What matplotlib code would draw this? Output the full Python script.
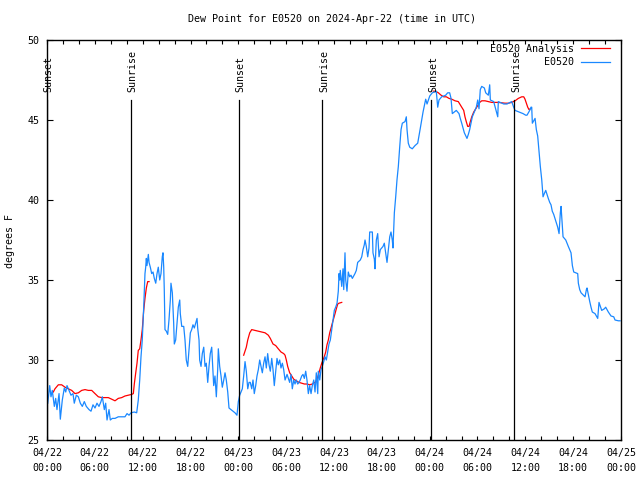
import numpy as np
import matplotlib
matplotlib.use("Agg")
import matplotlib.pyplot as plt
from matplotlib.ticker import FixedLocator, MultipleLocator
import matplotlib.transforms as mtransforms

# ---- data (hours since 2024-04-22 00:00 UTC, dew point in deg F) ----
obs_hours = [0.09, 0.34, 0.50, 0.66, 0.92, 1.09, 1.25, 1.51, 1.67, 1.92, 2.17, 2.35, 2.51, 2.76,
             3.01, 3.26, 3.42, 3.68, 3.93, 4.18, 4.43, 4.68, 4.93, 5.27, 5.52, 5.77, 6.02, 6.27,
             6.52, 6.77, 6.94, 7.19, 7.36, 7.53, 7.78, 7.94, 8.19, 8.53, 8.94, 9.37, 9.78, 10.04,
             10.29, 10.54, 10.95, 11.25, 11.45, 11.63, 11.79, 11.95, 12.13, 12.29, 12.38, 12.46,
             12.54, 12.71, 12.80, 12.96, 13.13, 13.30, 13.46, 13.64, 13.80, 13.96, 14.14, 14.30,
             14.46, 14.55, 14.64, 14.71, 14.80, 14.97, 15.14, 15.30, 15.47, 15.55, 15.72, 15.89,
             15.97, 16.14, 16.31, 16.47, 16.65, 16.72, 16.90, 17.15, 17.31, 17.47, 17.65, 17.81,
             17.98, 18.15, 18.31, 18.48, 18.65, 18.82, 18.90, 19.07, 19.15, 19.32, 19.48, 19.66,
             19.82, 19.98, 20.16, 20.32, 20.48, 20.66, 20.74, 20.91, 21.07, 21.24, 21.41, 21.49,
             21.66, 21.83, 21.99, 22.17, 22.33, 22.49, 22.67, 22.83, 23.08, 23.33, 23.58, 23.83,
             24.00, 24.17, 24.34, 24.50, 24.67, 24.84, 25.00, 25.18, 25.34, 25.50, 25.68, 25.84,
             26.00, 26.18, 26.34, 26.51, 26.68, 26.84, 27.01, 27.18, 27.35, 27.51, 27.68, 27.85,
             28.01, 28.19, 28.35, 28.51, 28.69, 28.85, 29.01, 29.19, 29.35, 29.52, 29.69, 29.86,
             30.11, 30.44, 30.61, 30.77, 30.95, 31.11, 31.27, 31.45, 31.61, 31.77, 31.95, 32.11,
             32.28, 32.45, 32.61, 32.78, 32.95, 33.12, 33.28, 33.46, 33.62, 33.78, 33.96, 34.03,
             34.21, 34.37, 34.53, 34.71, 34.87, 35.04, 35.21, 35.37, 35.54, 35.71, 35.88, 36.04,
             36.21, 36.38, 36.54, 36.63, 36.72, 36.79, 36.97, 37.13, 37.22, 37.38, 37.47, 37.63,
             37.79, 37.97, 38.13, 38.30, 38.63, 38.80, 38.97, 39.30, 39.48, 39.64, 39.80, 39.89,
             40.05, 40.23, 40.39, 40.48, 40.81, 40.89, 41.06, 41.14, 41.31, 41.48, 41.65, 41.81,
             42.15, 42.31, 42.65, 42.99, 43.15, 43.31, 43.40, 43.57, 43.74, 43.90, 44.07, 44.24,
             44.41, 44.57, 44.91, 45.07, 45.16, 45.32, 45.50, 45.82, 46.16, 46.50, 46.66, 46.83,
             47.00, 47.17, 47.33, 47.50, 47.67, 48.01, 48.33, 48.83, 49.01, 49.17, 49.51, 50.01,
             50.26, 50.51, 50.68, 50.84, 51.34, 51.68, 51.84, 52.02, 52.18, 52.35, 52.68, 52.85,
             53.02, 53.19, 53.35, 53.69, 53.85, 54.03, 54.19, 54.35, 54.53, 54.86, 55.03, 55.36,
             55.53, 55.61, 56.03, 56.54, 56.61, 57.29, 57.70, 58.29, 58.54, 58.71, 59.21, 59.71,
             60.05, 60.21, 60.55, 60.71, 60.80, 60.88, 61.22, 61.38, 61.55, 61.72, 61.88, 62.06,
             62.22, 62.38, 62.56, 62.88, 63.06, 63.22, 63.38, 63.56, 63.72, 63.89, 64.06, 64.23,
             64.39, 64.48, 64.73, 65.07, 65.39, 65.73, 65.90, 66.07, 66.57, 66.65, 66.82, 66.99,
             67.49, 67.66, 67.74, 68.08, 68.24, 68.40, 68.74, 69.08, 69.24, 69.58, 69.91, 70.08,
             70.41, 70.75, 71.09, 71.25, 71.67, 71.88]
obs_dewpt = [27.3, 28.4, 27.7, 28.1, 27.1, 27.6, 26.9, 27.9, 26.3, 27.5, 28.25, 28.0, 28.4, 28.1,
             27.8, 27.9, 27.3, 27.8, 27.7, 27.3, 27.1, 27.4, 27.1, 26.9, 26.8, 27.2, 27.0, 27.3,
             27.1, 27.4, 27.7, 26.9, 27.3, 26.25, 26.9, 26.25, 26.35, 26.35, 26.45, 26.45, 26.45, 26.65,
             26.55, 26.7, 26.75, 26.7, 27.5, 28.75, 30.2, 31.25, 33.3, 35.4, 35.8, 36.35,
             35.9, 36.6, 36.1, 35.8, 35.4, 35.5, 35.1, 34.8, 35.4, 35.8, 35.0, 35.4,
             36.45, 36.7, 35.8, 34.4, 31.9, 31.8, 31.6, 32.5, 33.75, 34.8, 34.2, 32.3,
             31.0, 31.25, 32.3, 33.3, 33.75, 32.9, 32.1, 32.1, 31.25, 30.0, 29.6, 30.6,
             31.7, 31.9, 32.2, 32.0, 32.3, 32.6, 32.0, 31.25, 30.0, 29.6, 30.4, 30.8,
             29.6, 29.8, 28.6, 29.6, 30.4, 30.8, 30.0, 28.4, 29.0, 27.7, 29.4, 30.7,
             29.6, 29.0, 28.3, 28.75, 29.2, 28.75, 28.0, 27.0, 26.9, 26.8, 26.7, 26.55,
             27.4, 27.8, 28.0, 28.2, 29.0, 29.9, 29.3, 28.2, 28.6, 28.6, 28.2, 28.75,
             27.9, 28.4, 29.0, 29.4, 30.0, 29.6, 29.2, 29.8, 30.2, 29.5, 30.4, 29.7,
             29.3, 30.1, 29.4, 28.4, 29.3, 30.1, 29.7, 30.0, 29.5, 29.8, 29.4, 28.75,
             29.1, 28.6, 29.1, 28.2, 28.75, 28.5, 28.75, 28.5, 28.6, 28.75, 29.0, 29.1,
             28.85, 29.3, 28.75, 27.9, 28.4, 27.9, 28.4, 28.75, 28.0, 29.2, 27.9, 29.3,
             28.75, 29.4, 29.6, 29.9, 30.2, 30.0, 30.5, 31.0, 31.25, 31.9, 32.5, 33.1,
             33.3, 33.55, 34.3, 35.4, 35.0, 35.6, 34.6, 35.7, 34.4, 36.7, 35.0, 34.3,
             35.5, 35.2, 35.3, 35.1, 35.4, 35.6, 36.1, 36.25, 36.45, 36.9, 37.2, 37.5,
             37.1, 36.45, 37.0, 38.0, 38.0, 36.7, 36.3, 35.7, 37.5, 37.9, 36.45, 36.9,
             37.1, 37.3, 36.1, 37.7, 38.0, 37.5, 37.0, 39.2, 40.2, 41.25, 42.1, 43.3,
             44.4, 44.8, 44.9, 45.2, 44.4, 43.55, 43.3, 43.2, 43.4, 43.55, 44.0, 44.5,
             45.0, 45.5, 45.9, 46.3, 46.0, 46.5, 46.7, 46.8, 45.8, 46.25, 46.45, 46.55,
             46.7, 46.7, 46.35, 45.4, 45.6, 45.4, 45.1, 44.8, 44.5, 44.2, 43.85, 44.1,
             44.4, 44.8, 45.2, 45.6, 45.8, 46.25, 45.7, 46.9, 47.1, 47.0, 46.7, 46.55,
             47.2, 46.25, 46.15, 45.2, 46.15, 46.0, 46.0, 46.15, 45.8, 45.6, 45.5, 45.4,
             45.3, 45.3, 45.6, 45.8, 45.8, 44.8, 45.1, 44.4, 44.0, 43.0, 42.1, 41.25,
             40.2, 40.4, 40.6, 40.1, 39.85, 39.7, 39.3, 39.1, 38.85, 38.6, 38.3, 37.9,
             39.2, 39.6, 37.7, 37.5, 37.1, 36.7, 35.9, 35.5, 35.4, 34.8, 34.4, 34.2,
             33.95, 34.4, 34.5, 33.65, 33.3, 33.0, 32.9, 32.6, 33.6, 33.1, 33.2, 33.3,
             33.0, 32.75, 32.7, 32.5, 32.45, 32.45]

# analysis series; NaN marks gaps between analysis periods
ana_hours = [0.79, 1.00, 1.42, 1.84, 2.26, 2.67, 3.10, 3.51, 3.93, 4.35, 4.77, 5.18, 5.61, 6.02,
             6.44, 6.86, 7.28, 7.69, 8.12, 8.53, 8.94, 9.37, 9.78, 10.20, 10.62, 10.83, 10.95,
             11.13, 11.29, 11.45, 11.63, 11.79, 11.95, 12.13, 12.29, 12.46, 12.63, 12.80,
             18.0,
             24.67, 25.00, 25.18, 25.43, 25.68, 26.09, 26.51, 26.93, 27.35, 27.76, 28.01, 28.35,
             28.69, 29.01, 29.35, 29.69, 29.86, 30.02, 30.19, 30.44, 30.70, 30.95, 31.27, 31.61,
             31.95, 32.28, 32.61, 32.95, 33.28, 33.62, 33.87, 34.03, 34.28, 34.46, 34.62, 34.78,
             34.96, 35.12, 35.29, 35.46, 35.63, 35.79, 35.96, 36.13, 36.29, 36.47, 36.63, 36.97,
             42.0,
             48.46, 48.76, 49.09, 49.43, 49.76, 50.09, 50.43, 50.77, 51.18, 51.59, 52.02, 52.27,
             52.43, 52.59, 52.77, 52.94, 53.10, 53.28, 53.53, 53.78, 54.03, 54.28, 54.53, 54.94,
             55.36, 55.78, 56.61, 57.45, 57.87, 58.29, 58.71, 59.12, 59.55, 59.80, 59.96, 60.13,
             60.30, 60.46, 60.62]
ana_dewpt = [28.0, 28.2, 28.45, 28.45, 28.3, 28.2, 28.1, 27.9, 27.95, 28.1, 28.15, 28.1, 28.1, 27.9,
             27.7, 27.65, 27.65, 27.65, 27.55, 27.45, 27.6, 27.65, 27.75, 27.8, 27.85, 27.9, 28.5,
             29.2, 29.8, 30.6, 30.7, 31.25, 31.9, 33.1, 33.85, 34.5, 34.9, 34.9,
             np.nan,
             30.3, 30.8, 31.25, 31.7, 31.9, 31.85, 31.8, 31.75, 31.7, 31.55, 31.35, 31.0,
             30.9, 30.7, 30.5, 30.4, 30.3, 30.0, 29.6, 29.2, 29.0, 28.8, 28.7, 28.6,
             28.55, 28.5, 28.5, 28.45, 28.5, 28.6, 28.8, 29.05, 29.5, 29.8, 30.0, 30.2,
             30.5, 30.95, 31.25, 31.7, 32.0, 32.3, 32.6, 32.9, 33.2, 33.5, 33.55, 33.6,
             np.nan,
             46.8, 46.8, 46.7, 46.55, 46.45, 46.45, 46.35, 46.3, 46.2, 46.15, 45.8, 45.6,
             45.2, 44.9, 44.6, 44.6, 44.9, 45.2, 45.5, 45.7, 45.9, 46.1, 46.2, 46.2,
             46.15, 46.1, 46.1, 46.05, 46.05, 46.1, 46.2, 46.35, 46.45, 46.45, 46.3, 46.05,
             45.8, 45.65, 45.7]

sun_events = ["Sunset", "Sunrise", "Sunset", "Sunrise", "Sunset", "Sunrise"]
sun_hours = [0.02, 10.54, 24.08, 34.54, 48.21, 58.62]

tick_hours = [0, 6, 12, 18, 24, 30, 36, 42, 48, 54, 60, 66, 72]
tick_labels = ["04/22\n00:00", "04/22\n06:00", "04/22\n12:00", "04/22\n18:00",
               "04/23\n00:00", "04/23\n06:00", "04/23\n12:00", "04/23\n18:00",
               "04/24\n00:00", "04/24\n06:00", "04/24\n12:00", "04/24\n18:00",
               "04/25\n00:00"]
y_ticks = [25, 30, 35, 40, 45, 50]

# ---- figure ----
FONT = "DejaVu Sans Mono"
FS = 7.2
plt.rcParams["font.family"] = FONT
plt.rcParams["font.size"] = FS

fig = plt.figure(figsize=(6.4, 4.8), dpi=100)
ax = fig.add_axes([47 / 640, 40 / 480, 574 / 640, 400 / 480])

ax.plot(ana_hours, ana_dewpt, color="#ff0000", lw=0.9, label="E0520 Analysis")
ax.plot(obs_hours, obs_dewpt, color="#1a88ff", lw=0.9, label="E0520")

trans = mtransforms.blended_transform_factory(ax.transData, ax.transAxes)
for name, h in zip(sun_events, sun_hours):
    ax.axvline(h, ymin=0, ymax=0.85, color="black", lw=0.9)
    ax.text(h + 0.2, 0.871, name, rotation=90, ha="center", va="bottom",
            transform=trans, fontsize=FS, clip_on=False)

ax.set_xlim(0, 72)
ax.set_ylim(25, 50)
ax.xaxis.set_major_locator(FixedLocator(tick_hours))
ax.xaxis.set_minor_locator(MultipleLocator(2))
ax.set_xticklabels(tick_labels, linespacing=1.6)
ax.yaxis.set_major_locator(FixedLocator(y_ticks))
ax.set_yticklabels([str(v) for v in y_ticks])

ax.tick_params(axis="both", which="both", direction="in", top=True, right=True,
               width=0.8, color="black", labelsize=FS)
ax.tick_params(axis="x", which="both", length=3.0, pad=6)
ax.tick_params(axis="y", which="major", length=4.3, pad=5.5)
for s in ax.spines.values():
    s.set_linewidth(1.0)

leg = ax.legend(loc="upper right", bbox_to_anchor=(1 - 11 / 574, 1 - 4 / 400),
                frameon=False, markerfirst=False, handlelength=2.9, handletextpad=0.7,
                labelspacing=0.35, borderaxespad=0, borderpad=0, fontsize=FS)

fig.text(332 / 640, 1 - 19 / 480, "Dew Point for E0520 on 2024-Apr-22 (time in UTC)",
         ha="center", va="center", fontsize=FS)
fig.text(10 / 640, 1 - 241 / 480, "degrees F", rotation=90, ha="center", va="center",
         fontsize=FS)

fig.savefig("out.png", dpi=100)
